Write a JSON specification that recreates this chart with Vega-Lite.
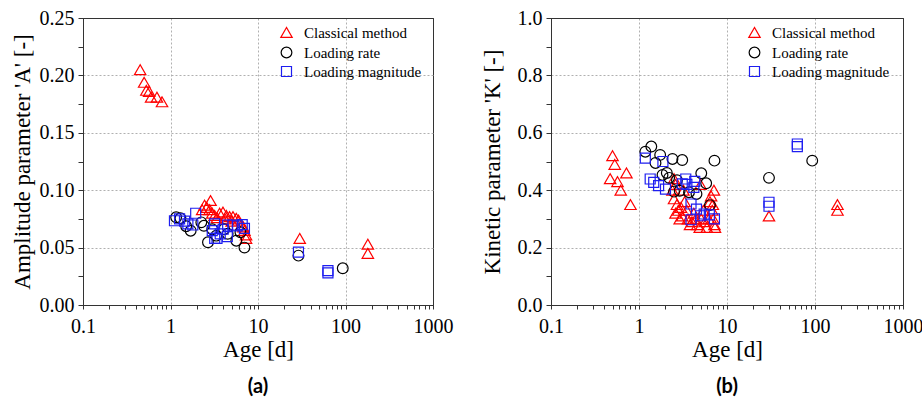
{
  "$schema": "https://vega.github.io/schema/vega-lite/v6.json",
  "padding": {"left": 10, "top": 7, "right": 5, "bottom": 5},
  "background": "white",
  "datasets": {
    "A": [
      {"method": "Classical method", "age": 0.45, "v": 0.205},
      {"method": "Classical method", "age": 0.5, "v": 0.194},
      {"method": "Classical method", "age": 0.53, "v": 0.187},
      {"method": "Classical method", "age": 0.57, "v": 0.186},
      {"method": "Classical method", "age": 0.6, "v": 0.181},
      {"method": "Classical method", "age": 0.7, "v": 0.181},
      {"method": "Classical method", "age": 0.8, "v": 0.177},
      {"method": "Classical method", "age": 2.3, "v": 0.083},
      {"method": "Classical method", "age": 2.45, "v": 0.087},
      {"method": "Classical method", "age": 2.6, "v": 0.085},
      {"method": "Classical method", "age": 2.8, "v": 0.083},
      {"method": "Classical method", "age": 2.87, "v": 0.091},
      {"method": "Classical method", "age": 3.0, "v": 0.08},
      {"method": "Classical method", "age": 3.19, "v": 0.078},
      {"method": "Classical method", "age": 3.4, "v": 0.076},
      {"method": "Classical method", "age": 3.64, "v": 0.08},
      {"method": "Classical method", "age": 3.98, "v": 0.081},
      {"method": "Classical method", "age": 4.2, "v": 0.075},
      {"method": "Classical method", "age": 4.35, "v": 0.078},
      {"method": "Classical method", "age": 4.74, "v": 0.077},
      {"method": "Classical method", "age": 5.0, "v": 0.073},
      {"method": "Classical method", "age": 5.18, "v": 0.077},
      {"method": "Classical method", "age": 5.65, "v": 0.0755},
      {"method": "Classical method", "age": 6.0, "v": 0.074},
      {"method": "Classical method", "age": 6.45, "v": 0.0697},
      {"method": "Classical method", "age": 6.8, "v": 0.068},
      {"method": "Classical method", "age": 7.0, "v": 0.065},
      {"method": "Classical method", "age": 7.3, "v": 0.061},
      {"method": "Classical method", "age": 7.3, "v": 0.058},
      {"method": "Classical method", "age": 30, "v": 0.058},
      {"method": "Classical method", "age": 180, "v": 0.053},
      {"method": "Classical method", "age": 180, "v": 0.045},
      {"method": "Loading rate", "age": 1.16, "v": 0.0764},
      {"method": "Loading rate", "age": 1.3, "v": 0.0755},
      {"method": "Loading rate", "age": 1.51, "v": 0.0686},
      {"method": "Loading rate", "age": 1.7, "v": 0.0647},
      {"method": "Loading rate", "age": 2.25, "v": 0.072},
      {"method": "Loading rate", "age": 2.41, "v": 0.069},
      {"method": "Loading rate", "age": 2.68, "v": 0.0546},
      {"method": "Loading rate", "age": 3.0, "v": 0.066},
      {"method": "Loading rate", "age": 3.33, "v": 0.0604},
      {"method": "Loading rate", "age": 4.1, "v": 0.066},
      {"method": "Loading rate", "age": 4.5, "v": 0.062},
      {"method": "Loading rate", "age": 5.65, "v": 0.056},
      {"method": "Loading rate", "age": 6.3, "v": 0.0633},
      {"method": "Loading rate", "age": 7.0, "v": 0.05},
      {"method": "Loading rate", "age": 29, "v": 0.043},
      {"method": "Loading rate", "age": 93, "v": 0.032},
      {"method": "Loading magnitude", "age": 1.11, "v": 0.0734},
      {"method": "Loading magnitude", "age": 1.27, "v": 0.075},
      {"method": "Loading magnitude", "age": 1.45, "v": 0.073},
      {"method": "Loading magnitude", "age": 1.58, "v": 0.0706},
      {"method": "Loading magnitude", "age": 1.8, "v": 0.0697},
      {"method": "Loading magnitude", "age": 1.94, "v": 0.0799},
      {"method": "Loading magnitude", "age": 3.0, "v": 0.0647},
      {"method": "Loading magnitude", "age": 3.19, "v": 0.0706},
      {"method": "Loading magnitude", "age": 3.2, "v": 0.058},
      {"method": "Loading magnitude", "age": 3.4, "v": 0.058},
      {"method": "Loading magnitude", "age": 3.7, "v": 0.062},
      {"method": "Loading magnitude", "age": 4.0, "v": 0.066},
      {"method": "Loading magnitude", "age": 4.46, "v": 0.0595},
      {"method": "Loading magnitude", "age": 4.5, "v": 0.0697},
      {"method": "Loading magnitude", "age": 5.18, "v": 0.0697},
      {"method": "Loading magnitude", "age": 5.8, "v": 0.069},
      {"method": "Loading magnitude", "age": 6.6, "v": 0.07},
      {"method": "Loading magnitude", "age": 7.0, "v": 0.0668},
      {"method": "Loading magnitude", "age": 29, "v": 0.046},
      {"method": "Loading magnitude", "age": 63, "v": 0.03},
      {"method": "Loading magnitude", "age": 63, "v": 0.028}
    ],
    "K": [
      {"method": "Classical method", "age": 0.47, "v": 0.44},
      {"method": "Classical method", "age": 0.5, "v": 0.52},
      {"method": "Classical method", "age": 0.53, "v": 0.49},
      {"method": "Classical method", "age": 0.57, "v": 0.43},
      {"method": "Classical method", "age": 0.62, "v": 0.4},
      {"method": "Classical method", "age": 0.72, "v": 0.46},
      {"method": "Classical method", "age": 0.8, "v": 0.35},
      {"method": "Classical method", "age": 2.5, "v": 0.44},
      {"method": "Classical method", "age": 2.6, "v": 0.42},
      {"method": "Classical method", "age": 2.4, "v": 0.4},
      {"method": "Classical method", "age": 2.5, "v": 0.37},
      {"method": "Classical method", "age": 2.7, "v": 0.35},
      {"method": "Classical method", "age": 2.8, "v": 0.33},
      {"method": "Classical method", "age": 2.6, "v": 0.32},
      {"method": "Classical method", "age": 2.9, "v": 0.3},
      {"method": "Classical method", "age": 3.0, "v": 0.34},
      {"method": "Classical method", "age": 3.1, "v": 0.31},
      {"method": "Classical method", "age": 3.2, "v": 0.4},
      {"method": "Classical method", "age": 3.3, "v": 0.36},
      {"method": "Classical method", "age": 3.5, "v": 0.33},
      {"method": "Classical method", "age": 3.6, "v": 0.3},
      {"method": "Classical method", "age": 3.8, "v": 0.28},
      {"method": "Classical method", "age": 4.0, "v": 0.29},
      {"method": "Classical method", "age": 4.2, "v": 0.32},
      {"method": "Classical method", "age": 4.4, "v": 0.3},
      {"method": "Classical method", "age": 4.6, "v": 0.28},
      {"method": "Classical method", "age": 4.9, "v": 0.27},
      {"method": "Classical method", "age": 5.0, "v": 0.42},
      {"method": "Classical method", "age": 5.1, "v": 0.3},
      {"method": "Classical method", "age": 5.4, "v": 0.33},
      {"method": "Classical method", "age": 5.6, "v": 0.29},
      {"method": "Classical method", "age": 5.9, "v": 0.27},
      {"method": "Classical method", "age": 6.2, "v": 0.3},
      {"method": "Classical method", "age": 6.4, "v": 0.36},
      {"method": "Classical method", "age": 6.6, "v": 0.38},
      {"method": "Classical method", "age": 6.8, "v": 0.33},
      {"method": "Classical method", "age": 6.9, "v": 0.35},
      {"method": "Classical method", "age": 7.0, "v": 0.3},
      {"method": "Classical method", "age": 7.1, "v": 0.4},
      {"method": "Classical method", "age": 7.2, "v": 0.28},
      {"method": "Classical method", "age": 7.3, "v": 0.27},
      {"method": "Classical method", "age": 30, "v": 0.31},
      {"method": "Classical method", "age": 180, "v": 0.35},
      {"method": "Classical method", "age": 180, "v": 0.33},
      {"method": "Loading rate", "age": 1.18, "v": 0.534},
      {"method": "Loading rate", "age": 1.38, "v": 0.552},
      {"method": "Loading rate", "age": 1.54, "v": 0.495},
      {"method": "Loading rate", "age": 1.74, "v": 0.523},
      {"method": "Loading rate", "age": 1.85, "v": 0.453},
      {"method": "Loading rate", "age": 2.07, "v": 0.46},
      {"method": "Loading rate", "age": 2.2, "v": 0.443},
      {"method": "Loading rate", "age": 2.4, "v": 0.509},
      {"method": "Loading rate", "age": 2.5, "v": 0.395},
      {"method": "Loading rate", "age": 2.7, "v": 0.435},
      {"method": "Loading rate", "age": 2.9, "v": 0.398},
      {"method": "Loading rate", "age": 3.1, "v": 0.505},
      {"method": "Loading rate", "age": 3.7, "v": 0.393},
      {"method": "Loading rate", "age": 4.5, "v": 0.387},
      {"method": "Loading rate", "age": 5.1, "v": 0.459},
      {"method": "Loading rate", "age": 5.8, "v": 0.424},
      {"method": "Loading rate", "age": 6.4, "v": 0.348},
      {"method": "Loading rate", "age": 7.2, "v": 0.503},
      {"method": "Loading rate", "age": 30, "v": 0.443},
      {"method": "Loading rate", "age": 93, "v": 0.503},
      {"method": "Loading magnitude", "age": 1.18, "v": 0.512},
      {"method": "Loading magnitude", "age": 1.34, "v": 0.439},
      {"method": "Loading magnitude", "age": 1.47, "v": 0.427},
      {"method": "Loading magnitude", "age": 1.67, "v": 0.416},
      {"method": "Loading magnitude", "age": 1.87, "v": 0.5},
      {"method": "Loading magnitude", "age": 2.0, "v": 0.404},
      {"method": "Loading magnitude", "age": 3.1, "v": 0.422},
      {"method": "Loading magnitude", "age": 3.4, "v": 0.439},
      {"method": "Loading magnitude", "age": 3.5, "v": 0.42},
      {"method": "Loading magnitude", "age": 4.2, "v": 0.41},
      {"method": "Loading magnitude", "age": 4.3, "v": 0.431},
      {"method": "Loading magnitude", "age": 3.9, "v": 0.352},
      {"method": "Loading magnitude", "age": 4.5, "v": 0.334},
      {"method": "Loading magnitude", "age": 3.9, "v": 0.297},
      {"method": "Loading magnitude", "age": 5.0, "v": 0.311},
      {"method": "Loading magnitude", "age": 5.5, "v": 0.317},
      {"method": "Loading magnitude", "age": 6.3, "v": 0.314},
      {"method": "Loading magnitude", "age": 7.2, "v": 0.3},
      {"method": "Loading magnitude", "age": 30, "v": 0.358},
      {"method": "Loading magnitude", "age": 30, "v": 0.344},
      {"method": "Loading magnitude", "age": 63, "v": 0.561},
      {"method": "Loading magnitude", "age": 63, "v": 0.552}
    ]
  },
  "hconcat": [
    {
      "width": 350,
      "height": 287,
      "data": {"name": "A"},
      "title": {"text": "(a)", "orient": "bottom", "anchor": "middle", "font": "Lato", "fontSize": 20, "fontWeight": "bold", "color": "black", "offset": 16},
      "layer": [
        {
          "mark": {"type": "point", "filled": false, "strokeWidth": 1.2, "opacity": 1},
          "encoding": {
            "x": {
              "field": "age", "type": "quantitative",
              "scale": {"type": "log", "domain": [0.1, 1000], "nice": false},
              "axis": {
                "title": "Age [d]",
                "values": [0.1,0.2,0.3,0.4,0.5,0.6,0.7,0.8,0.9,1,2,3,4,5,6,7,8,9,10,20,30,40,50,60,70,80,90,100,200,300,400,500,600,700,800,900,1000],
                "format": "~g",
                "labelExpr": "abs(log(datum.value)/LN10 - round(log(datum.value)/LN10)) < 0.001 ? datum.label : ''",
                "tickSize": 4,
                "gridOpacity": {"condition": {"test": "abs(log(datum.value)/LN10 - round(log(datum.value)/LN10)) < 0.001", "value": 1}, "value": 0},
                "gridDash": {"condition": {"test": "datum.value <= 0.1 || datum.value >= 1000", "value": [400, 1]}, "value": [2, 2]},
                "gridColor": {"condition": {"test": "datum.value <= 0.1 || datum.value >= 1000", "value": "#333333"}, "value": "#b0b0b0"},
                "labelPadding": 7,
                "titlePadding": 2
              }
            },
            "y": {
              "field": "v", "type": "quantitative",
              "scale": {"domain": [0, 0.25], "nice": false},
              "axis": {
                "title": "Amplitude parameter 'A' [-]",
                "values": [0,0.025,0.05,0.075,0.1,0.125,0.15,0.175,0.2,0.225,0.25],
                "labelExpr": "abs(datum.value*20 - round(datum.value*20)) < 0.001 ? format(datum.value, '.2f') : ''",
                "tickSize": 5,
                "gridOpacity": {"condition": {"test": "abs(datum.value*20 - round(datum.value*20)) < 0.001", "value": 1}, "value": 0},
                "gridDash": {"condition": {"test": "datum.value <= 0.0001 || datum.value >= 0.2499", "value": [400, 1]}, "value": [2, 2]},
                "gridColor": {"condition": {"test": "datum.value <= 0.0001 || datum.value >= 0.2499", "value": "#333333"}, "value": "#b0b0b0"},
                "labelPadding": 4,
                "titlePadding": 5
              }
            },
            "color": {
              "field": "method", "type": "nominal",
              "scale": {"domain": ["Classical method", "Loading rate", "Loading magnitude"], "range": ["#ff0000", "#000000", "#1e1ef0"]},
              "legend": {"title": null, "orient": "none", "legendX": 196, "legendY": 7}
            },
            "shape": {
              "field": "method", "type": "nominal",
              "scale": {"domain": ["Classical method", "Loading rate", "Loading magnitude"], "range": ["triangle-up", "circle", "square"]},
              "legend": {"title": null, "orient": "none", "legendX": 196, "legendY": 7}
            },
            "size": {
              "field": "method", "type": "nominal",
              "scale": {"domain": ["Classical method", "Loading rate", "Loading magnitude"], "range": [130, 100, 90]},
              "legend": null
            }
          }
        }
      ]
    },
    {
      "width": 352,
      "height": 287,
      "data": {"name": "K"},
      "title": {"text": "(b)", "orient": "bottom", "anchor": "middle", "font": "Lato", "fontSize": 20, "fontWeight": "bold", "color": "black", "offset": 16},
      "layer": [
        {
          "mark": {"type": "point", "filled": false, "strokeWidth": 1.2, "opacity": 1},
          "encoding": {
            "x": {
              "field": "age", "type": "quantitative",
              "scale": {"type": "log", "domain": [0.1, 1000], "nice": false},
              "axis": {
                "title": "Age [d]",
                "values": [0.1,0.2,0.3,0.4,0.5,0.6,0.7,0.8,0.9,1,2,3,4,5,6,7,8,9,10,20,30,40,50,60,70,80,90,100,200,300,400,500,600,700,800,900,1000],
                "format": "~g",
                "labelExpr": "abs(log(datum.value)/LN10 - round(log(datum.value)/LN10)) < 0.001 ? datum.label : ''",
                "tickSize": 4,
                "gridOpacity": {"condition": {"test": "abs(log(datum.value)/LN10 - round(log(datum.value)/LN10)) < 0.001", "value": 1}, "value": 0},
                "gridDash": {"condition": {"test": "datum.value <= 0.1 || datum.value >= 1000", "value": [400, 1]}, "value": [2, 2]},
                "gridColor": {"condition": {"test": "datum.value <= 0.1 || datum.value >= 1000", "value": "#333333"}, "value": "#b0b0b0"},
                "labelPadding": 7,
                "titlePadding": 2
              }
            },
            "y": {
              "field": "v", "type": "quantitative",
              "scale": {"domain": [0, 1], "nice": false},
              "axis": {
                "title": "Kinetic parameter 'K' [-]",
                "values": [0,0.1,0.2,0.3,0.4,0.5,0.6,0.7,0.8,0.9,1],
                "labelExpr": "abs(datum.value*5 - round(datum.value*5)) < 0.001 ? format(datum.value, '.1f') : ''",
                "tickSize": 5,
                "gridOpacity": {"condition": {"test": "abs(datum.value*5 - round(datum.value*5)) < 0.001", "value": 1}, "value": 0},
                "gridDash": {"condition": {"test": "datum.value <= 0.0001 || datum.value >= 0.9999", "value": [400, 1]}, "value": [2, 2]},
                "gridColor": {"condition": {"test": "datum.value <= 0.0001 || datum.value >= 0.9999", "value": "#333333"}, "value": "#b0b0b0"},
                "labelPadding": 4,
                "titlePadding": 13
              }
            },
            "color": {
              "field": "method", "type": "nominal",
              "scale": {"domain": ["Classical method", "Loading rate", "Loading magnitude"], "range": ["#ff0000", "#000000", "#1e1ef0"]},
              "legend": {"title": null, "orient": "none", "legendX": 196, "legendY": 7}
            },
            "shape": {
              "field": "method", "type": "nominal",
              "scale": {"domain": ["Classical method", "Loading rate", "Loading magnitude"], "range": ["triangle-up", "circle", "square"]},
              "legend": {"title": null, "orient": "none", "legendX": 196, "legendY": 7}
            },
            "size": {
              "field": "method", "type": "nominal",
              "scale": {"domain": ["Classical method", "Loading rate", "Loading magnitude"], "range": [130, 100, 90]},
              "legend": null
            }
          }
        }
      ]
    }
  ],
  "spacing": 118,
  "bounds": "flush",
  "resolve": {"scale": {"color": "independent", "shape": "independent", "size": "independent"}, "legend": {"color": "independent", "shape": "independent"}},
  "config": {
    "font": "Liberation Serif",
    "view": {"stroke": "#333333", "strokeWidth": 1},
    "axis": {
      "labelFont": "Liberation Serif", "labelFontSize": 20, "labelColor": "black",
      "titleFont": "Liberation Serif", "titleFontSize": 23, "titleFontWeight": "normal", "titleColor": "black",
      "domainColor": "#333333", "tickColor": "#333333",
      "gridWidth": 1,
      "labelOverlap": false, "labelFlush": false, "labelBound": false
    },
    "legend": {
      "labelFont": "Liberation Serif", "labelFontSize": 15, "labelColor": "black",
      "symbolSize": 110, "symbolStrokeWidth": 1.2, "rowPadding": 3, "labelOffset": 10, "padding": 0
    }
  }
}
